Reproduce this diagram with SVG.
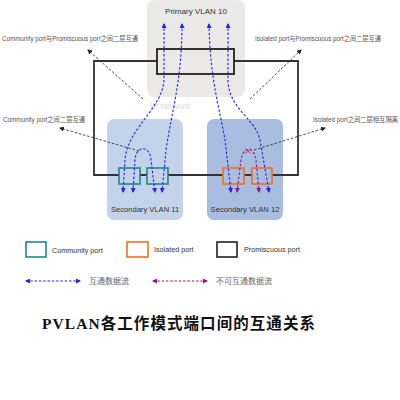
<svg xmlns="http://www.w3.org/2000/svg" width="400" height="400" viewBox="0 0 400 400">
<style>
.lbl{font-family:"Liberation Sans","Noto Sans CJK SC",sans-serif;fill:#333}
.ann{font-family:"Liberation Sans","Noto Sans CJK SC",sans-serif;fill:#555;font-size:6.5px}
.cn{font-family:"Liberation Serif","Noto Sans CJK SC",serif;fill:#666;font-size:8px}
.blue{fill:none;stroke:#2222ee;stroke-width:1.1;stroke-dasharray:2.5,1.8;marker-start:url(#ab);marker-end:url(#ab)}
.purp{fill:none;stroke:#8a1a8a;stroke-width:1.1;stroke-dasharray:2.5,1.8;marker-start:url(#ap);marker-end:url(#ap)}
.blk{fill:none;stroke:#333;stroke-width:0.9;stroke-dasharray:2.5,1.8;marker-end:url(#ak)}
.comm{fill:none;stroke:#1a8a8a;stroke-width:1.6}
.iso{fill:none;stroke:#f07020;stroke-width:1.6}
</style>
<defs>
<marker id="ab" viewBox="0 0 10 10" refX="8" refY="5" markerWidth="5" markerHeight="5" orient="auto-start-reverse" markerUnits="userSpaceOnUse"><path d="M0,0L10,5L0,10z" fill="#2222ee"/></marker>
<marker id="ap" viewBox="0 0 10 10" refX="8" refY="5" markerWidth="5" markerHeight="5" orient="auto-start-reverse" markerUnits="userSpaceOnUse"><path d="M0,0L10,5L0,10z" fill="#8a1a8a"/></marker>
<marker id="ak" viewBox="0 0 10 10" refX="8" refY="5" markerWidth="5" markerHeight="5" orient="auto" markerUnits="userSpaceOnUse"><path d="M0,0L10,5L0,10z" fill="#222"/></marker>
</defs>
<rect width="400" height="400" fill="#fff"/>

<g id="primary-vlan">
<rect x="147" y="0" width="98" height="97" rx="8" fill="#eae9e7"/>
<text class="lbl" x="196" y="14" font-size="8" text-anchor="middle">Primary VLAN 10</text>
<text x="150" y="109" font-size="8.5" fill="#dcdcdc" font-family="Liberation Sans,sans-serif">IP network</text>
</g>

<g id="secondary-vlan-11">
<rect x="107" y="119" width="76" height="101" rx="7" fill="#c5d3ea"/>
<text class="lbl" x="145" y="212" font-size="7.6" text-anchor="middle">Secondary VLAN 11</text>
</g>
<g id="secondary-vlan-12">
<rect x="207" y="119" width="76" height="101" rx="7" fill="#a9bde0"/>
<text class="lbl" x="245" y="212" font-size="7.6" text-anchor="middle">Secondary VLAN 12</text>
</g>

<g id="links" fill="none" stroke="#333" stroke-width="1.8">
<path d="M157,61H94V175H119M140,175H147M168,175H223M244,175H252M272,175H298V61H234"/>
</g>

<g id="promiscuous-port">
<rect x="157" y="49" width="77" height="25" fill="none" stroke="#222" stroke-width="1.8"/>
</g>
<g id="community-port-1"><rect class="comm" x="119" y="168" width="21" height="16"/></g>
<g id="community-port-2"><rect class="comm" x="147" y="168" width="21" height="16"/></g>
<g id="isolated-port-1"><rect class="iso" x="223" y="168" width="21" height="16"/></g>
<g id="isolated-port-2"><rect class="iso" x="252" y="168" width="20" height="16"/></g>

<g id="connectors">
<path class="blue" d="M164,24L164,78C164,108 127,128 125,160L123,192"/>
<path class="blue" d="M182,24C182,80 172,110 166,150L162,192"/>
<path class="blue" d="M133,192L135,160C136,145 150,145 151,160L155,192"/>
<path class="blue" d="M209,24C210,80 220,110 225,140L231,192"/>
<path class="blue" d="M228,24L228,82C230,110 255,118 260,140L269,192"/>
<path class="purp" d="M237,192L241,160C243,146 254,146 256,160L259,192"/>
<path d="M245,148L251,154M251,148L245,154" stroke="#e04050" stroke-width="0.9"/>
<path class="blk" d="M143,99L88,50"/>
<path class="blk" d="M250,99L301,50"/>
<path class="blk" d="M139,151L60,128"/>
<path class="blk" d="M254,150L325,128"/>
</g>

<g id="annotations">
<text class="ann" x="2" y="41" textLength="136" lengthAdjust="spacingAndGlyphs">Community port与Promiscuous port之间二层互通</text>
<text class="ann" x="255" y="41" textLength="126" lengthAdjust="spacingAndGlyphs">Isolated port与Promiscuous port之间二层互通</text>
<text class="ann" x="3" y="122" textLength="82" lengthAdjust="spacingAndGlyphs">Community port之间二层互通</text>
<text class="ann" x="313" y="122" textLength="85" lengthAdjust="spacingAndGlyphs">Isolated port之间二层相互隔离</text>
</g>

<g id="legend">
<rect class="comm" x="26" y="242" width="20" height="15"/>
<text class="lbl" x="52" y="253" font-size="7.2">Community port</text>
<rect class="iso" x="127" y="242" width="21" height="15"/>
<text class="lbl" x="154" y="252" font-size="7.2">Isolated port</text>
<rect x="217" y="242" width="20" height="15" fill="none" stroke="#222" stroke-width="1.6"/>
<text class="lbl" x="244" y="252" font-size="7.2">Promiscuous port</text>
<path class="blue" d="M26,281H80"/>
<text class="cn" x="89" y="284">互通数据流</text>
<path class="purp" d="M153,281H207"/>
<text class="cn" x="216" y="284">不可互通数据流</text>
</g>

<text x="42" y="329" font-family="Liberation Serif,Noto Sans CJK SC,serif" font-weight="bold" font-size="15.5" fill="#111" textLength="273" lengthAdjust="spacing">PVLAN各工作模式端口间的互通关系</text>
</svg>
